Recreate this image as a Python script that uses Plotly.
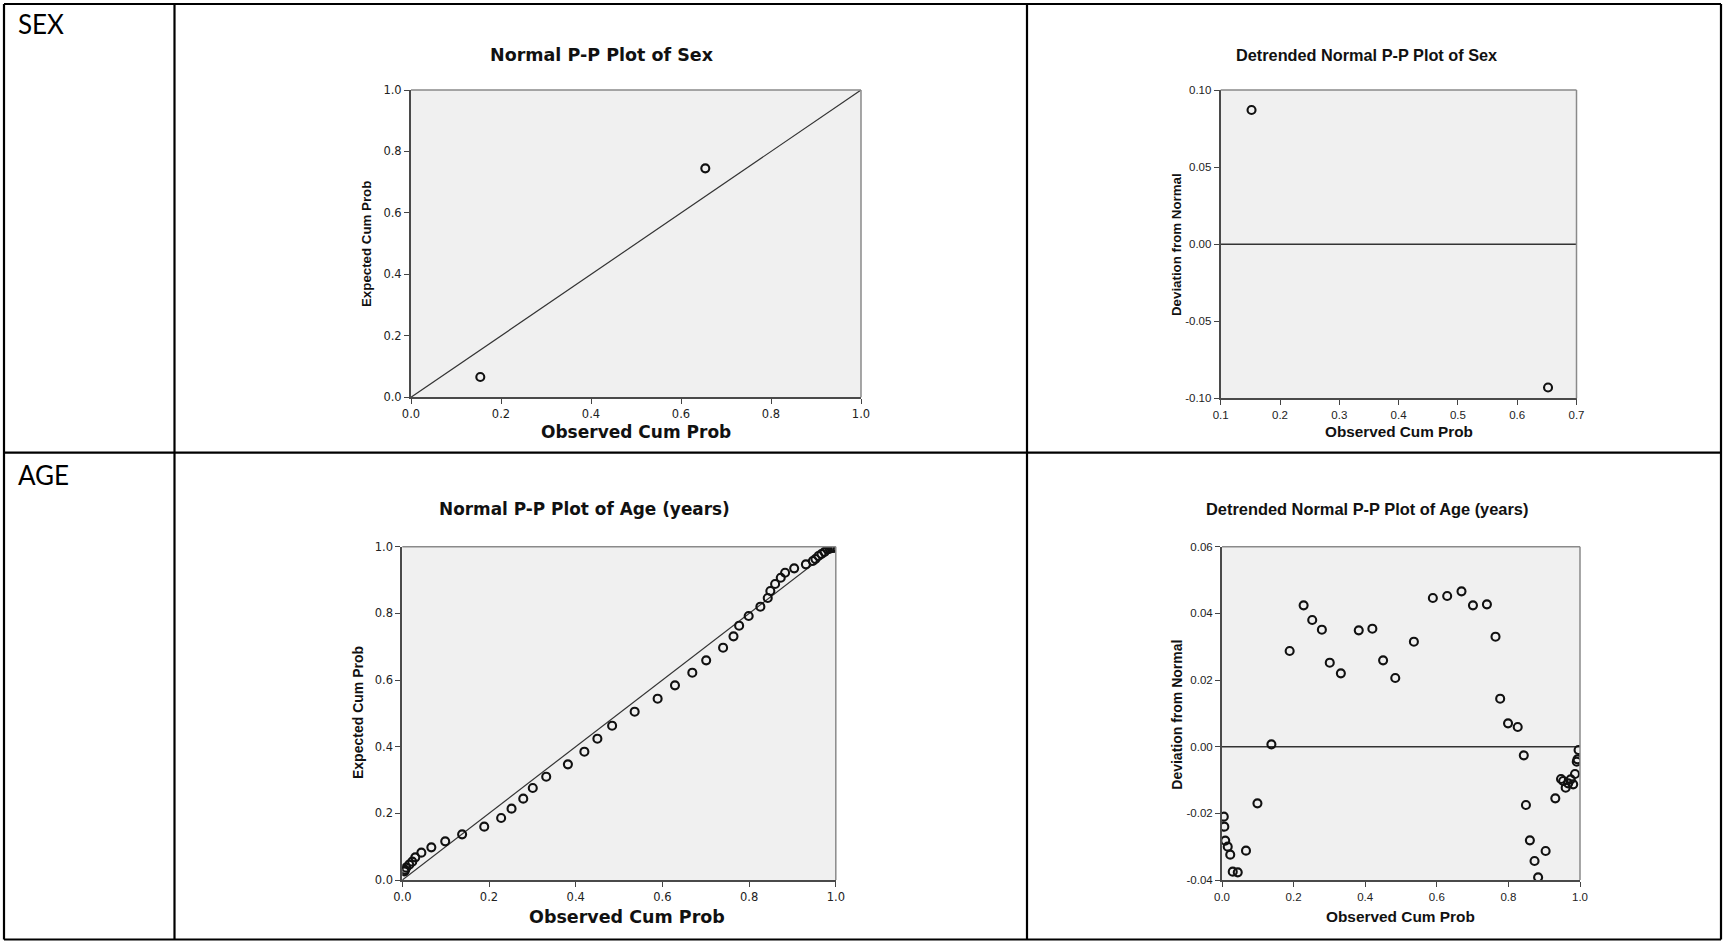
import plotly.graph_objects as go

W, H = 1723, 941

# ---------------- data ----------------
sex_observed = [0.154, 0.654]
sex_expected = [0.066, 0.745]

sex_dt_observed = [0.152, 0.652]
sex_deviation = [0.087, -0.093]

age_observed = [0.005, 0.0065, 0.009, 0.016, 0.023, 0.030, 0.044, 0.067, 0.099, 0.138,
                0.189, 0.228, 0.252, 0.279, 0.301, 0.332, 0.382, 0.420, 0.450, 0.484,
                0.536, 0.589, 0.629, 0.669, 0.701, 0.740, 0.764, 0.777, 0.799, 0.826,
                0.843, 0.849, 0.860, 0.873, 0.883, 0.904, 0.931, 0.947, 0.953, 0.960,
                0.967, 0.974, 0.981, 0.986, 0.991, 0.993, 0.996]
age_expected = [0.026, 0.0305, 0.037, 0.046, 0.055, 0.068, 0.082, 0.098, 0.116, 0.137,
                0.160, 0.186, 0.214, 0.244, 0.276, 0.310, 0.347, 0.385, 0.424, 0.463,
                0.505, 0.544, 0.584, 0.622, 0.659, 0.697, 0.731, 0.763, 0.792, 0.820,
                0.846, 0.867, 0.888, 0.907, 0.922, 0.935, 0.947, 0.957, 0.963, 0.972,
                0.978, 0.984, 0.992, 0.994, 0.996, 0.997, 0.997]
age_deviation = [-0.021, -0.024, -0.0282, -0.030, -0.0324, -0.0375, -0.0377, -0.0312, -0.017, 0.0007,
                 0.0287, 0.0424, 0.038, 0.0351, 0.0252, 0.022, 0.0349, 0.0354, 0.0259, 0.0206,
                 0.0315, 0.0446, 0.0452, 0.0466, 0.0424, 0.0427, 0.033, 0.0144, 0.007, 0.0059,
                 -0.0026, -0.0175, -0.0281, -0.0343, -0.0392, -0.0313, -0.0155, -0.0097, -0.0103, -0.0123,
                 -0.011, -0.0098, -0.0113, -0.0082, -0.0045, -0.0038, -0.001]

diag_line = [0.0, 1.0]
sex_dt_span = [0.1, 0.7]
age_dt_span = [0.0, 1.0]
zero_line = [0.0, 0.0]

unit_ticks = [0.0, 0.2, 0.4, 0.6, 0.8, 1.0]
unit_labels = ["0.0", "0.2", "0.4", "0.6", "0.8", "1.0"]
sex_dt_xticks = [0.1, 0.2, 0.3, 0.4, 0.5, 0.6, 0.7]
sex_dt_xlabels = ["0.1", "0.2", "0.3", "0.4", "0.5", "0.6", "0.7"]
sex_dt_yticks = [-0.10, -0.05, 0.0, 0.05, 0.10]
sex_dt_ylabels = ["-0.10", "-0.05", "0.00", "0.05", "0.10"]
age_dt_yticks = [-0.04, -0.02, 0.0, 0.02, 0.04, 0.06]
age_dt_ylabels = ["-0.04", "-0.02", "0.00", "0.02", "0.04", "0.06"]

row_labels = ["SEX", "AGE"]
titles = ["Normal P-P Plot of Sex", "Detrended Normal P-P Plot of Sex",
          "Normal P-P Plot of Age (years)", "Detrended Normal P-P Plot of Age (years)"]
x_title = "Observed Cum Prob"
y_titles = ["Expected Cum Prob", "Deviation from Normal"]

# ---------------- helpers ----------------
def px(x):
    return x / W

def py(y):
    return 1 - y / H

WIDE = "DejaVu Sans, Verdana, sans-serif"
ARIAL = "Liberation Sans, Arial, sans-serif"

marker = dict(symbol="circle-open", size=8, color="#111111", line=dict(width=2.1, color="#111111"))
refl = dict(color="#333333", width=1.2)

fig = go.Figure()

# plot 1
fig.add_trace(go.Scatter(x=diag_line, y=diag_line, mode="lines", line=refl, xaxis="x", yaxis="y", hoverinfo="skip"))
fig.add_trace(go.Scatter(x=sex_observed, y=sex_expected, mode="markers", marker=marker, xaxis="x", yaxis="y"))
# plot 2
fig.add_trace(go.Scatter(x=sex_dt_span, y=zero_line, mode="lines", line=dict(color="#333333", width=1.5), xaxis="x2", yaxis="y2", hoverinfo="skip"))
fig.add_trace(go.Scatter(x=sex_dt_observed, y=sex_deviation, mode="markers", marker=marker, xaxis="x2", yaxis="y2"))
# plot 3
fig.add_trace(go.Scatter(x=diag_line, y=diag_line, mode="lines", line=refl, xaxis="x3", yaxis="y3", hoverinfo="skip"))
fig.add_trace(go.Scatter(x=age_observed, y=age_expected, mode="markers", marker=marker, xaxis="x3", yaxis="y3"))
# plot 4
fig.add_trace(go.Scatter(x=age_dt_span, y=zero_line, mode="lines", line=dict(color="#333333", width=1.5), xaxis="x4", yaxis="y4", hoverinfo="skip"))
fig.add_trace(go.Scatter(x=age_observed, y=age_deviation, mode="markers", marker=marker, xaxis="x4", yaxis="y4"))

# plot rectangles in pixels: (left, top, right, bottom)
boxes = [(411, 90, 861, 397.3), (1220.7, 90, 1576.5, 398.3),
         (402.3, 546.7, 835.8, 880), (1222, 546.7, 1580, 880)]
wide_font = [True, False, True, False]

def axis(dom, rng, tv, tt, wide, anchor):
    return dict(domain=dom, range=rng, tickvals=tv, ticktext=tt, anchor=anchor,
                showline=True, linecolor="#4a4a4a", linewidth=2, mirror=False,
                ticks="outside", ticklen=5, tickwidth=1, tickcolor="#444444",
                showgrid=False, zeroline=False, automargin=False, fixedrange=True,
                tickfont=dict(family=WIDE if wide else ARIAL, size=11.5, color="#222222"))

xr = [[0, 1], [0.1, 0.7], [0, 1], [0, 1]]
yr = [[0, 1], [-0.10, 0.10], [0, 1], [-0.04, 0.06]]
xt = [(unit_ticks, unit_labels), (sex_dt_xticks, sex_dt_xlabels), (unit_ticks, unit_labels), (unit_ticks, unit_labels)]
yt = [(unit_ticks, unit_labels), (sex_dt_yticks, sex_dt_ylabels), (unit_ticks, unit_labels), (age_dt_yticks, age_dt_ylabels)]

layout_axes = {}
shapes = []
for i, (l, t, r, b) in enumerate(boxes):
    n = "" if i == 0 else str(i + 1)
    layout_axes["xaxis" + n] = axis([px(l), px(r)], xr[i], xt[i][0], xt[i][1], wide_font[i], "y" + n)
    layout_axes["yaxis" + n] = axis([py(b), py(t)], yr[i], yt[i][0], yt[i][1], wide_font[i], "x" + n)
    # top and right frame lines (lighter)
    shapes.append(dict(type="line", xref="x%s domain" % n, yref="y%s domain" % n, x0=0, x1=1, y0=1, y1=1,
                       line=dict(color="#8a8a8a", width=1.5)))
    shapes.append(dict(type="line", xref="x%s domain" % n, yref="y%s domain" % n, x0=1, x1=1, y0=0, y1=1,
                       line=dict(color="#8a8a8a", width=1.5)))

# table borders
table_lw = 2.2
vlines = [4, 174.5, 1027, 1721]
hlines = [4, 452.7, 939.5]
for xv in vlines:
    shapes.append(dict(type="line", xref="paper", yref="paper", x0=px(xv), x1=px(xv), y0=py(4), y1=py(939.5),
                       line=dict(color="black", width=table_lw)))
for yv in hlines:
    shapes.append(dict(type="line", xref="paper", yref="paper", x0=px(4), x1=px(1721), y0=py(yv), y1=py(yv),
                       line=dict(color="black", width=table_lw)))

annotations = []
def ann(text, x, y, font, angle=0, xanchor="center"):
    annotations.append(dict(text=text, x=px(x), y=py(y), xref="paper", yref="paper", showarrow=False,
                            xanchor=xanchor, yanchor="middle", textangle=angle, font=font))

cell_font = dict(family="Liberation Sans Narrow, Lato, sans-serif", size=26, color="black")
ann(row_labels[0], 16, 24, cell_font, xanchor="left")
ann(row_labels[1], 16, 475, cell_font, xanchor="left")

# plot titles
ann(titles[0], 602, 55, dict(family=WIDE, size=17.5, color="#111111", weight="bold"))
ann(titles[1], 1366, 55, dict(family=ARIAL, size=16.3, color="#111111", weight="bold"))
ann(titles[2], 584, 509, dict(family=WIDE, size=16.9, color="#111111", weight="bold"))
ann(titles[3], 1367, 509, dict(family=ARIAL, size=16.4, color="#111111", weight="bold"))

# x axis titles
ann(x_title, 636, 431.7, dict(family=WIDE, size=17, color="#111111", weight="bold"))
ann(x_title, 1398.5, 431.7, dict(family=ARIAL, size=15.3, color="#111111", weight="bold"))
ann(x_title, 627, 916.7, dict(family=WIDE, size=17.5, color="#111111", weight="bold"))
ann(x_title, 1400.5, 916.7, dict(family=ARIAL, size=15.4, color="#111111", weight="bold"))

# y axis titles
ann(y_titles[0], 366, 244, dict(family=ARIAL, size=13.3, color="#111111", weight="bold"), angle=-90)
ann(y_titles[1], 1176, 245, dict(family=ARIAL, size=13.3, color="#111111", weight="bold"), angle=-90)
ann(y_titles[0], 358, 713, dict(family=ARIAL, size=14, color="#111111", weight="bold"), angle=-90)
ann(y_titles[1], 1176.7, 715, dict(family=ARIAL, size=14, color="#111111", weight="bold"), angle=-90)

fig.update_layout(
    width=W, height=H, margin=dict(l=0, r=0, t=0, b=0, pad=0, autoexpand=False),
    paper_bgcolor="white", plot_bgcolor="#F0F0F0",
    showlegend=False, shapes=shapes, annotations=annotations,
    **layout_axes
)

fig.write_html(
    "out.html",
    config={"displayModeBar": False, "responsive": False},
    post_script="document.body.style.margin='0';document.body.style.padding='0';"
                "document.documentElement.style.overflow='hidden';",
)
